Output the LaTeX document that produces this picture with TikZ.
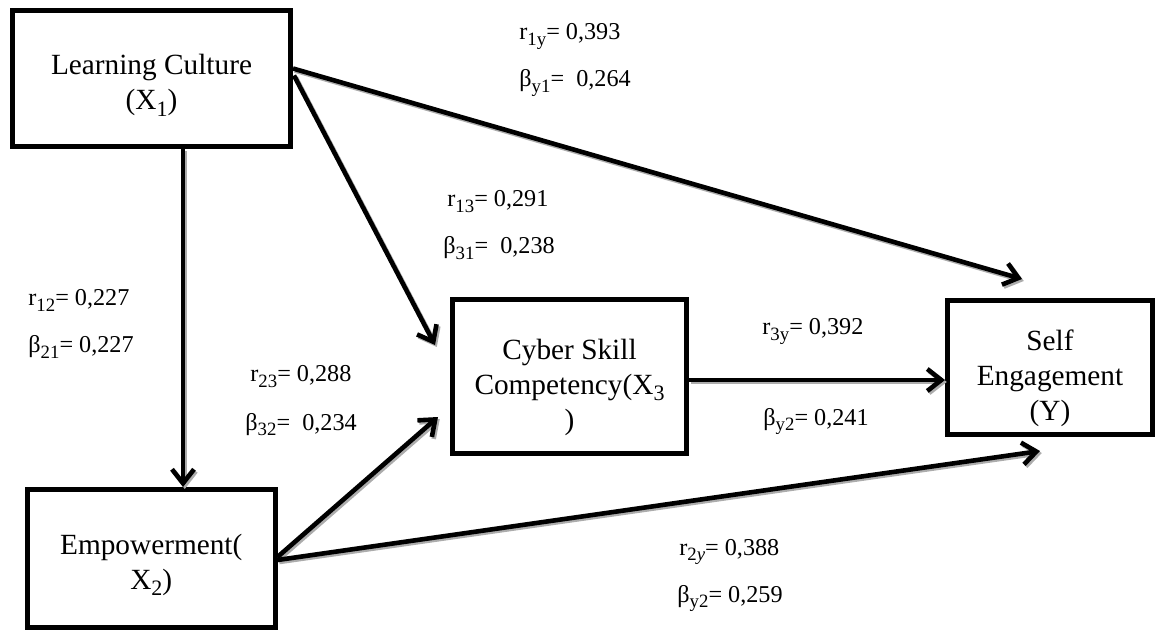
\documentclass[tikz,border=0pt]{standalone}
\usepackage{fontspec}
\setmainfont{Liberation Serif}
\usetikzlibrary{arrows.meta,calc}
\newcommand{\boxfont}{\fontsize{14.65}{17.5}\selectfont}
\newcommand{\labfont}{\fontsize{12.1}{13}\selectfont}
\newcommand{\lsub}[1]{\raisebox{-2.7pt}{\fontsize{9.4}{10}\selectfont #1}}
\newcommand{\bsub}[1]{\raisebox{-3.2pt}{\fontsize{11}{12}\selectfont #1}}
\newcommand{\topstrut}[1]{\rule{0pt}{#1}}
\begin{document}
\begin{tikzpicture}[x=0.5pt,y=-0.5pt,
  box/.style={draw, line width=2.5pt, align=center, font=\boxfont, inner sep=0pt},
  lab/.style={anchor=base west, inner sep=0pt, font=\labfont},
  tip/.style={-{Straight Barb[length=7pt,width=11pt]}},
  arr/.style={line width=2.3pt, tip,
    preaction={draw=gray!65, line width=2.3pt, tip, transform canvas={shift={(0.9pt,-1pt)}}}}
]
\useasboundingbox (0,0) rectangle (1156,630);

% boxes
\node[box, minimum width=139pt, minimum height=68pt] (lc) at (151.5,78.5) {\topstrut{17pt}Learning Culture\\(X\bsub{1})};
\node[box, minimum width=123.75pt, minimum height=69pt] (em) at (151.25,558.5) {\topstrut{16.5pt}Empowerment(\\X\bsub{2})};
\node[box, minimum width=117pt, minimum height=77pt] (cy) at (569.5,376.5) {\topstrut{21pt}Cyber Skill\\Competency(X\bsub{3}\\)};
\node[box, minimum width=102.5pt, minimum height=67pt] (se) at (1050,367.5) {\topstrut{21pt}Self\\Engagement\\(Y)};

% connectors
\draw[arr] ($(lc.south)+(31.5,0)$) -- ($(em.north)+(31.75,0)$);
\draw[arr] ($(lc.east)+(0,-10)$) -- ($(se.north west)+(77,-19)$);
\draw[arr] ($(lc.east)+(1,-3)$) -- ($(cy.west)+(-15,-31.5)$);
\draw[arr] ($(em.east)+(0,-1.5)$) -- ($(cy.west)+(-12,40.5)$);
\draw[arr] ($(em.east)+(0,1.5)$) -- ($(se.south west)+(95,14)$);
\draw[arr] ($(cy.east)+(0,3.5)$) -- ($(se.west)+(0,12.5)$);

% labels
\node[lab] (r1y) at (519,40) {r\lsub{1y}= 0,393};
\node[lab] (by1) at (519,87) {β\lsub{y1}=\ \ 0,264};
\node[lab] (r13) at (447,207) {r\lsub{13}= 0,291};
\node[lab] (b31) at (443,254) {β\lsub{31}=\ \ 0,238};
\node[lab] (r12) at (28,306) {r\lsub{12}= 0,227};
\node[lab] (b21) at (28,353) {β\lsub{21}= 0,227};
\node[lab] (r23) at (250,382) {r\lsub{23}= 0,288};
\node[lab] (b32) at (245,430) {β\lsub{32}=\ \ 0,234};
\node[lab] (r3y) at (762,335) {r\lsub{3y}= 0,392};
\node[lab] (by2a) at (763,425) {β\lsub{y2}= 0,241};
\node[lab] (r2y) at (679,555) {r\lsub{2\textit{y}}= 0,388};
\node[lab] (by2b) at (677,602) {β\lsub{y2}= 0,259};
\end{tikzpicture}
\end{document}
